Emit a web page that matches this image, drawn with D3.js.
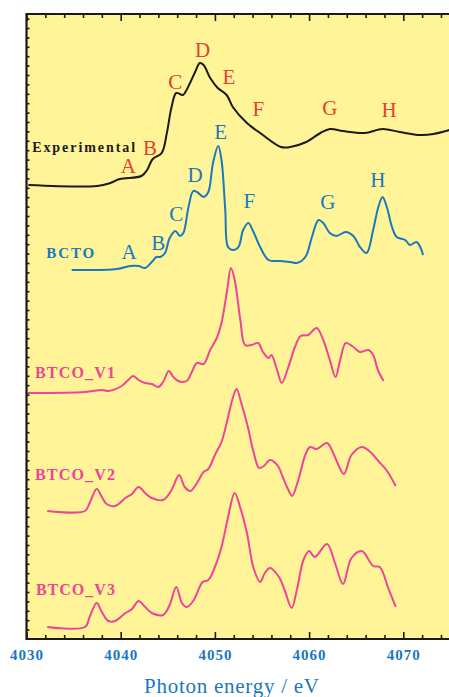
<!DOCTYPE html>
<html>
<head>
<meta charset="utf-8">
<script src="https://cdn.jsdelivr.net/npm/d3@7"></script>
<style>
body { margin: 0; background: #fff; }
svg { display: block; }
</style>
</head>
<body>
<svg id="chart" width="449" height="697"></svg>
<script>
// Photon energy (eV) and offset intensity (a.u.) for each spectrum
var expEnergy = [4030.2, 4037.5, 4038.9, 4039.9, 4042.2, 4042.8, 4043.4, 4044.35, 4044.9, 4045.4,
  4045.9, 4046.6, 4047.1, 4047.9, 4048.4, 4048.8, 4049.5, 4050.3, 4051.25, 4051.9,
  4053.4, 4054.8, 4057.0, 4058.0, 4059.7, 4061.2, 4062.2, 4063.6, 4065.9, 4067.8,
  4069.6, 4071.8, 4073.2, 4074.9];
var expValue = [45.4, 45.3, 45.6, 46.0, 46.3, 46.9, 48.0, 48.6, 50.6, 53.2,
  54.6, 54.4, 55.1, 56.7, 57.6, 57.4, 56.1, 55.1, 54.4, 53.2,
  51.6, 50.6, 49.2, 49.2, 49.7, 50.6, 51.0, 50.8, 50.6, 51.0,
  50.7, 50.4, 50.5, 50.9];

var bctoEnergy = [4034.8, 4039.6, 4041.0, 4041.9, 4042.6, 4043.3, 4043.8, 4044.2, 4044.7, 4045.2,
  4045.8, 4046.3, 4046.65, 4047.2, 4047.7, 4048.1, 4048.8, 4049.3, 4049.8, 4050.35,
  4050.7, 4051.1, 4051.4, 4051.95, 4052.5, 4053.0, 4053.55, 4054.1, 4054.8, 4055.7,
  4056.9, 4058.0, 4058.7, 4059.6, 4060.3, 4061.0, 4061.5, 4062.2, 4062.9, 4063.9,
  4064.7, 4065.4, 4066.1, 4066.8, 4067.35, 4067.8, 4068.25, 4068.8, 4069.3, 4070.2,
  4070.7, 4071.4, 4071.8, 4072.1];
var bctoValue = [36.9, 37.0, 37.3, 37.3, 37.1, 37.7, 38.2, 38.2, 38.6, 40.1,
  40.8, 40.3, 40.6, 43.2, 44.8, 44.7, 44.2, 44.7, 47.6, 49.3,
  47.9, 42.9, 39.2, 38.9, 39.2, 40.9, 41.6, 40.7, 39.2, 37.9,
  37.8, 37.7, 37.6, 38.2, 40.2, 41.9, 41.6, 40.6, 40.3, 40.7,
  40.3, 39.2, 38.6, 40.9, 43.2, 44.2, 43.2, 41.2, 40.2, 39.9,
  39.4, 39.7, 39.2, 38.4];

var v1Energy = [4030.0, 4036.2, 4038.0, 4038.7, 4040.1, 4040.8, 4041.3, 4041.9, 4042.6, 4043.3,
  4044.0, 4044.5, 4045.1, 4045.6, 4046.1, 4047.0, 4047.5, 4048.1, 4048.8, 4049.5,
  4050.2, 4050.7, 4051.3, 4051.7, 4052.1, 4052.7, 4053.2, 4053.9, 4054.6, 4055.1,
  4055.7, 4056.0, 4056.6, 4057.1, 4057.8, 4058.5, 4059.1, 4059.9, 4060.8, 4061.5,
  4062.2, 4062.8, 4063.3, 4063.9, 4064.7, 4065.4, 4066.3, 4066.8, 4067.3, 4067.9];
var v1Value = [24.6, 24.7, 24.9, 24.8, 25.3, 25.9, 26.3, 25.9, 25.6, 25.5,
  25.2, 25.7, 26.8, 26.2, 25.8, 25.8, 26.6, 27.6, 27.5, 28.9,
  30.1, 31.6, 34.9, 37.1, 35.9, 31.9, 29.4, 29.4, 29.6, 28.7,
  28.1, 28.4, 26.9, 25.6, 27.2, 29.2, 30.3, 30.4, 31.1, 29.9,
  27.9, 26.2, 27.9, 29.6, 29.2, 28.7, 28.9, 28.4, 26.9, 25.8];

var v2Energy = [4032.2, 4036.2, 4036.7, 4037.45, 4038.0, 4038.5, 4039.4, 4040.5, 4041.2, 4041.9,
  4042.6, 4043.3, 4044.5, 4045.4, 4046.2, 4046.8, 4047.4, 4048.1, 4048.8, 4049.3,
  4050.0, 4050.7, 4051.4, 4051.9, 4052.3, 4052.8, 4053.5, 4054.1, 4054.7, 4055.2,
  4055.85, 4056.7, 4057.2, 4057.8, 4058.2, 4058.85, 4059.6, 4060.1, 4060.8, 4061.9,
  4062.6, 4063.2, 4063.7, 4064.5, 4065.6, 4066.5, 4067.35, 4068.2, 4069.2];
var v2Value = [12.8, 12.8, 13.6, 15.0, 14.2, 13.5, 13.3, 14.1, 14.5, 15.2,
  14.6, 14.1, 13.9, 14.9, 16.4, 15.2, 14.8, 15.6, 16.7, 17.0,
  18.4, 19.7, 22.2, 24.1, 25.0, 23.6, 21.2, 18.7, 17.1, 17.3,
  17.9, 17.3, 16.2, 14.9, 14.3, 15.9, 18.4, 19.2, 19.0, 19.6,
  18.5, 17.2, 16.5, 18.4, 19.2, 18.7, 17.8, 16.9, 15.3];

var v3Energy = [4032.2, 4036.2, 4036.7, 4037.45, 4038.0, 4038.7, 4039.4, 4040.5, 4041.2, 4041.9,
  4042.6, 4043.3, 4044.5, 4045.2, 4045.9, 4046.5, 4047.0, 4047.7, 4048.7, 4049.3,
  4050.0, 4050.7, 4051.4, 4052.1, 4052.7, 4053.4, 4054.1, 4054.8, 4055.3, 4055.85,
  4056.8, 4057.4, 4058.15, 4058.7, 4059.4, 4060.0, 4060.6, 4061.9, 4062.75, 4063.6,
  4064.5, 4065.6, 4066.8, 4067.5, 4068.4, 4069.2];
var v3Value = [1.2, 1.2, 2.2, 3.6, 2.7, 1.8, 1.8, 2.6, 3.0, 3.8,
  3.2, 2.6, 2.4, 3.4, 5.2, 3.6, 3.2, 3.8, 5.7, 5.9,
  7.2, 9.2, 12.2, 14.6, 13.1, 10.6, 7.1, 5.7, 6.6, 7.1,
  6.2, 4.9, 3.1, 4.9, 7.9, 8.8, 8.2, 9.5, 7.6, 5.5,
  8.1, 8.8, 7.3, 7.2, 5.1, 3.2];

// peak letters: energy and value at the letter's baseline
var peakLetters = ["A", "B", "C", "D", "E", "F", "G", "H"];
var expPeakEnergy = [4040.8, 4043.1, 4045.8, 4048.7, 4051.5, 4054.6, 4062.2, 4068.5];
var expPeakValue = [46.6, 48.4, 55.0, 58.2, 55.5, 52.3, 52.4, 52.2];
var bctoPeakEnergy = [4040.9, 4044.0, 4045.9, 4047.9, 4050.6, 4053.65, 4062.0, 4067.3];
var bctoPeakValue = [38.0, 38.9, 41.8, 45.7, 50.0, 43.1, 43.0, 45.2];

var seriesNames = ["Experimental", "BCTO", "BTCO_V1", "BTCO_V2", "BTCO_V3"];
var nameEnergy = [4030.6, 4032.1, 4030.9, 4030.9, 4031.0];
var nameValue = [48.7, 38.1, 26.1, 15.9, 4.4];

var majorTicks = [4030, 4040, 4050, 4060, 4070];

var colors = {
  yellow: "#fff598",
  black: "#1c1a17",
  blue: "#1a78c0",
  pink: "#ee4596",
  red: "#e63e30"
};

var svg = d3.select("#chart");

var x = d3.scaleLinear().domain([4030, 4075]).range([26.5, 450.4]);
var y = d3.scaleLinear().domain([0, 62.5]).range([639, 14]);

// plot background
svg.append("rect")
  .attr("x", x(4030))
  .attr("y", y(62.5))
  .attr("width", 440)
  .attr("height", y(0) - y(62.5))
  .attr("fill", colors.yellow);

var line = d3.line()
  .x(function(d) { return x(d[0]); })
  .y(function(d) { return y(d[1]); })
  .curve(d3.curveCatmullRom.alpha(0.5));

var spectra = [
  { e: expEnergy, v: expValue, color: colors.black },
  { e: bctoEnergy, v: bctoValue, color: colors.blue },
  { e: v1Energy, v: v1Value, color: colors.pink },
  { e: v2Energy, v: v2Value, color: colors.pink },
  { e: v3Energy, v: v3Value, color: colors.pink }
];

svg.selectAll("path.spectrum")
  .data(spectra)
  .enter()
  .append("path")
  .attr("class", "spectrum")
  .attr("d", function(s) { return line(d3.zip(s.e, s.v)); })
  .attr("fill", "none")
  .attr("stroke", function(s) { return s.color; })
  .attr("stroke-width", 2)
  .attr("stroke-linejoin", "round");

// peak letters
function drawLetters(energy, value, color) {
  svg.append("g")
    .selectAll("text")
    .data(peakLetters)
    .enter()
    .append("text")
    .attr("x", function(d, i) { return x(energy[i]); })
    .attr("y", function(d, i) { return y(value[i]); })
    .attr("text-anchor", "middle")
    .attr("font-family", "'Liberation Serif', 'Times New Roman', serif")
    .attr("font-size", 21)
    .attr("fill", color)
    .text(function(d) { return d; });
}
drawLetters(expPeakEnergy, expPeakValue, colors.red);
drawLetters(bctoPeakEnergy, bctoPeakValue, colors.blue);

// series names
var nameColors = [colors.black, colors.blue, colors.pink, colors.pink, colors.pink];
var nameSizes = [14, 15, 16, 16, 16];
var nameWidths = [103, 48, 80, 80, 79];
svg.append("g")
  .selectAll("text")
  .data(seriesNames)
  .enter()
  .append("text")
  .attr("x", function(d, i) { return x(nameEnergy[i]); })
  .attr("y", function(d, i) { return y(nameValue[i]); })
  .attr("font-family", "'Liberation Serif', 'Times New Roman', serif")
  .attr("font-weight", "bold")
  .attr("font-size", function(d, i) { return nameSizes[i]; })
  .attr("textLength", function(d, i) { return nameWidths[i]; })
  .attr("lengthAdjust", "spacing")
  .attr("fill", function(d, i) { return nameColors[i]; })
  .text(function(d) { return d; });

// axes: ticks point inward
var minorTicks = d3.range(4032, 4075, 2).filter(function(d) { return d % 10 !== 0; });

var bottomAxis = svg.append("g")
  .attr("transform", "translate(0," + y(0) + ")");
bottomAxis.append("g")
  .call(d3.axisBottom(x).tickValues(minorTicks).tickSize(-4).tickFormat(""));
bottomAxis.append("g")
  .call(d3.axisBottom(x).tickValues(majorTicks).tickSize(-7).tickPadding(10).tickFormat(d3.format("d")));

var topAxis = svg.append("g")
  .attr("transform", "translate(0," + y(62.5) + ")");
topAxis.append("g")
  .call(d3.axisTop(x).tickValues(minorTicks).tickSize(-4).tickFormat(""));
topAxis.append("g")
  .call(d3.axisTop(x).tickValues(majorTicks).tickSize(-7).tickFormat(""));

svg.append("g")
  .attr("transform", "translate(" + x(4030) + ",0)")
  .call(d3.axisLeft(y).tickValues(d3.range(0.94, 62.5, 0.94)).tickSize(-3).tickFormat(""));

svg.selectAll(".domain").remove();
svg.selectAll(".tick line")
  .attr("stroke", colors.black)
  .attr("stroke-width", 1.6);
svg.selectAll(".tick text")
  .attr("fill", colors.blue)
  .attr("font-family", "'Liberation Serif', 'Times New Roman', serif")
  .attr("font-weight", "bold")
  .attr("font-size", 15)
  .attr("letter-spacing", 1);

// frame (right edge falls outside the picture)
svg.append("path")
  .attr("d", "M" + x(4075) + "," + y(62.5) + "H" + x(4030) + "V" + y(0) + "H" + x(4075))
  .attr("fill", "none")
  .attr("stroke", colors.black)
  .attr("stroke-width", 2.2);

// axis title
svg.append("text")
  .attr("x", 231.5)
  .attr("y", 693)
  .attr("text-anchor", "middle")
  .attr("font-family", "'Liberation Serif', 'Times New Roman', serif")
  .attr("font-size", 21)
  .attr("textLength", 175)
  .attr("lengthAdjust", "spacing")
  .attr("fill", colors.blue)
  .text("Photon energy / eV");
</script>
</body>
</html>
